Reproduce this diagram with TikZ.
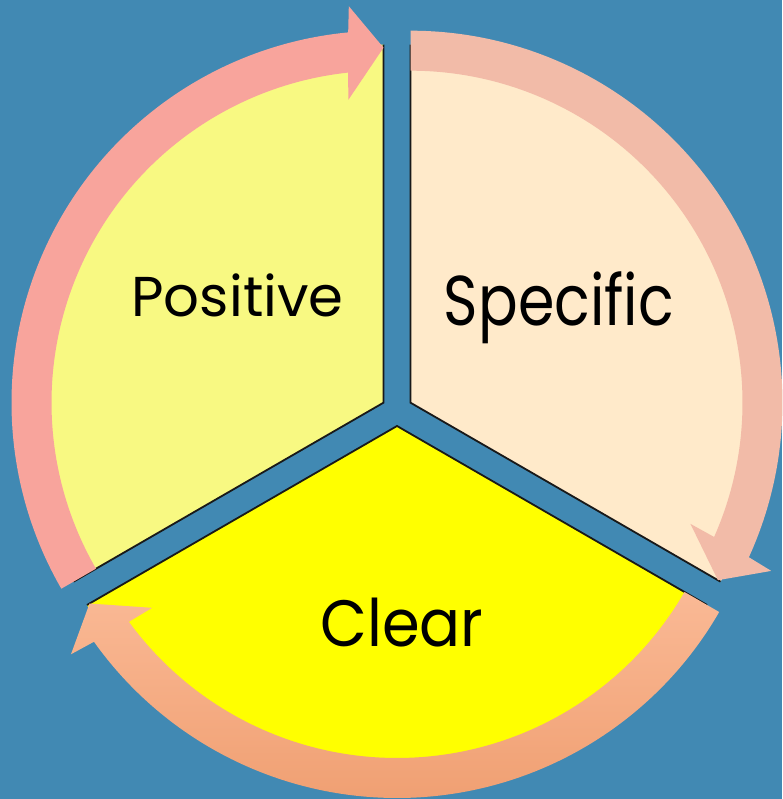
\documentclass[tikz,border=0pt]{standalone}
\usepackage{fontspec}
\setmainfont{Poppins}
\usepackage{graphicx}
\definecolor{bgblue}{HTML}{4189B3}
\definecolor{secleft}{HTML}{F8F982}
\definecolor{secright}{HTML}{FFEACA}
\definecolor{secbottom}{HTML}{FFFF00}
\definecolor{arrlighta}{HTML}{F8A49C}
\definecolor{arrdarka}{HTML}{EE8E86}
\definecolor{arrright}{HTML}{F2BBA8}
\definecolor{arrlightb}{HTML}{FAB995}
\definecolor{arrdarkb}{HTML}{F0A073}
\newcommand\cycarrowpath[1]{%
  (#1:372) arc[start angle=#1, end angle={#1-120+5.45}, radius=372]
  -- ({#1-120+5}:398) -- ({#1-120}:355) -- ({#1-120+6.6}:305)
  -- ({#1-120+6.14}:332) arc[start angle={#1-120+6.14}, end angle=#1, radius=332] -- cycle}
\tikzset{
  sectedge/.style={draw=black!90, line width=1.8pt, line join=miter},
  lbl/.style={anchor=base, inner sep=0pt, text=black}
}
\begin{document}
\begin{tikzpicture}[x=1pt,y=1pt]
\useasboundingbox (0,0) rectangle (782,799);
\fill[bgblue] (0,0) rectangle (782,799);
\coordinate (L) at (383.5,396.3);
\coordinate (R) at (410.5,396.3);
\coordinate (B) at (397,373);
% sectors
\begin{scope}[shift={(L)}]
  \fill[secleft] (0,0) -- (90:358) arc[start angle=90, end angle=210, radius=358] -- cycle;
  \draw[sectedge] (90:358) -- (0,0) -- (210:358);
\end{scope}
\begin{scope}[shift={(R)}]
  \fill[secright] (0,0) -- (-30:358) arc[start angle=-30, end angle=90, radius=358] -- cycle;
  \draw[sectedge] (90:358) -- (0,0) -- (-30:358);
\end{scope}
\begin{scope}[shift={(B)}]
  \fill[secbottom] (0,0) -- (210:358) arc[start angle=210, end angle=330, radius=358] -- cycle;
  \draw[sectedge] (210:358) -- (0,0) -- (330:358);
\end{scope}
% arrows
\begin{scope}[shift={(L)}]
  \shade[top color=arrlighta, middle color=arrdarka, bottom color=arrlighta] \cycarrowpath{210};
\end{scope}
\begin{scope}[shift={(R)}]
  \fill[arrright] \cycarrowpath{90};
\end{scope}
\begin{scope}[shift={(B)}]
  \shade[top color=arrlightb, bottom color=arrdarkb] \cycarrowpath{-30};
\end{scope}
% labels
\node[lbl] (positive) at (237.5,482) {\scalebox{1}[1.0]{\resizebox{212pt}{!}{Positive}}};
\node[lbl] (specific) at (559,473.3) {\scalebox{1}[1.2]{\resizebox{230pt}{!}{Specific}}};
\node[lbl] (clear) at (402,152) {\scalebox{1}[1.08]{\resizebox{163pt}{!}{Clear}}};
\end{tikzpicture}
\end{document}
